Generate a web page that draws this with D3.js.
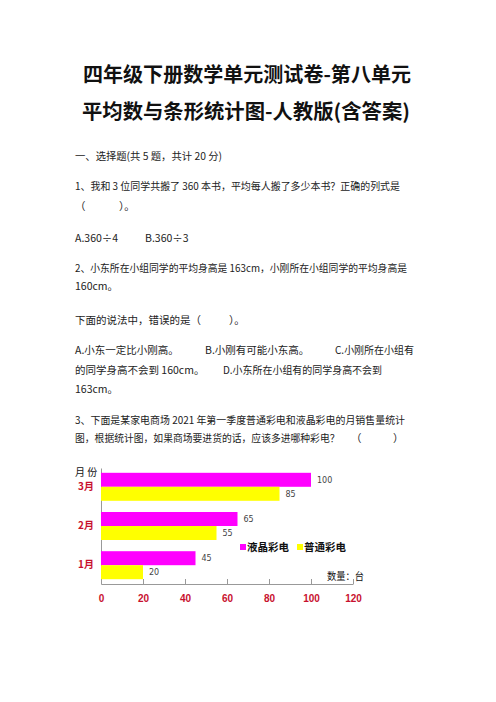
<!DOCTYPE html>
<html lang="zh">
<head>
  <meta charset="UTF-8">
  <title>四年级下册数学单元测试卷</title>
  <script src="https://d3js.org/d3.v7.min.js"></script>
  <style>
    body { margin: 0; background: #fff; }
    text { font-family: "Noto Sans CJK SC", sans-serif; }
  </style>
</head>
<body>
  <div class="canvas"></div>
  <script>
    // 月份（从上到下）
    const months = ['3月', '2月', '1月'];
    // 液晶彩电、普通彩电 销量（台）
    const lcdSales = [100, 65, 45];
    const normalSales = [85, 55, 20];
    const seriesNames = ['液晶彩电', '普通彩电'];
    const xTicks = [0, 20, 40, 60, 80, 100, 120];

    const svg = d3.select('.canvas')
      .append('svg')
      .attr('width', 496)
      .attr('height', 702)

    svg.append('rect').attr('width', 496).attr('height', 702).attr('fill', '#fff')

    // 标题
    const titles = [
      { t: '四年级下册数学单元测试卷-第八单元', x: 83, y: 82, w: 328 },
      { t: '平均数与条形统计图-人教版(含答案)', x: 82, y: 119, w: 328 }
    ]
    svg.selectAll('.title')
      .data(titles)
      .enter()
      .append('text')
      .attr('class', 'title')
      .attr('x', d => d.x)
      .attr('y', d => d.y)
      .attr('textLength', d => d.w)
      .attr('lengthAdjust', 'spacingAndGlyphs')
      .attr('font-size', 20)
      .attr('font-weight', 'bold')
      .attr('fill', '#111')
      .text(d => d.t)

    // 正文
    const lines = [
      { t: '一、选择题(共 5 题，共计 20 分)', x: 75, y: 160, w: 147 },
      { t: '1、我和 3 位同学共搬了 360 本书，平均每人搬了多少本书？正确的列式是', x: 75, y: 190, w: 325 },
      { t: '（', x: 75, y: 210 },
      { t: '）。', x: 119, y: 210 },
      { t: 'A.360÷4', x: 75, y: 242 },
      { t: 'B.360÷3', x: 145, y: 242 },
      { t: '2、小东所在小组同学的平均身高是 163cm，小刚所在小组同学的平均身高是', x: 75, y: 272, w: 332 },
      { t: '160cm。', x: 75, y: 290 },
      { t: '下面的说法中，错误的是（', x: 75, y: 324 },
      { t: '）。', x: 229, y: 324 },
      { t: 'A.小东一定比小刚高。', x: 75, y: 354 },
      { t: 'B.小刚有可能小东高。', x: 205, y: 354 },
      { t: 'C.小刚所在小组有', x: 335, y: 354, w: 79 },
      { t: '的同学身高不会到 160cm。', x: 75, y: 374 },
      { t: 'D.小东所在小组有的同学身高不会到', x: 223, y: 374, w: 159 },
      { t: '163cm。', x: 75, y: 393 },
      { t: '3、下面是某家电商场 2021 年第一季度普通彩电和液晶彩电的月销售量统计', x: 75, y: 424, w: 330 },
      { t: '图，根据统计图，如果商场要进货的话，应该多进哪种彩电？', x: 75, y: 442, fs: 9.8 },
      { t: '（', x: 351, y: 442 },
      { t: '）', x: 393, y: 442 }
    ]
    svg.selectAll('.line')
      .data(lines)
      .enter()
      .append('text')
      .attr('class', 'line')
      .attr('x', d => d.x)
      .attr('y', d => d.y)
      .attr('textLength', d => d.w ? d.w : null)
      .attr('lengthAdjust', 'spacingAndGlyphs')
      .attr('font-size', d => d.fs || 10.5)
      .attr('fill', '#222')
      .text(d => d.t)

    // 条形统计图
    const x = d3.scaleLinear().domain([0, 120]).range([101, 353])
    const y = d3.scaleBand().domain(months).range([468, 584])
      .paddingInner(0.286).paddingOuter(0.1225)
    const ySub = d3.scaleBand().domain(seriesNames).range([0, y.bandwidth()])
    const colors = { '液晶彩电': '#ff00ff', '普通彩电': '#ffff00' }

    const table = months.map((m, i) => ({
      month: m,
      values: [
        { name: seriesNames[0], value: lcdSales[i] },
        { name: seriesNames[1], value: normalSales[i] }
      ]
    }))

    const chart = svg.append('g')

    // x 轴
    const xAxis = chart.append('g')
      .attr('transform', `translate(0, 584)`)
      .call(d3.axisBottom(x).tickValues(xTicks).tickSizeInner(-5).tickSizeOuter(0).tickPadding(11))
    xAxis.select('.domain').attr('stroke', '#999')
    xAxis.selectAll('.tick line').attr('stroke', '#999')
    xAxis.selectAll('.tick text')
      .attr('fill', '#c8102e')
      .attr('font-size', 10)
      .attr('font-weight', 'bold')
      .style('font-family', 'Liberation Sans, Arial, sans-serif')

    // y 轴
    const yAxis = chart.append('g')
      .attr('transform', `translate(101, 0)`)
      .call(d3.axisLeft(y).tickSize(0).tickPadding(7))
    yAxis.select('.domain').attr('stroke', '#999')
    yAxis.selectAll('.tick text')
      .attr('fill', '#c8102e')
      .attr('font-size', 10)
      .attr('font-weight', 'bold')

    chart.append('text')
      .attr('x', 75).attr('y', 476)
      .attr('font-size', 10).attr('fill', '#111')
      .text('月  份')

    const groups = chart.selectAll('.group')
      .data(table)
      .enter()
      .append('g')
      .attr('class', 'group')
      .attr('transform', d => `translate(0, ${y(d.month)})`)

    groups.selectAll('rect')
      .data(d => d.values)
      .enter()
      .append('rect')
      .attr('x', x(0))
      .attr('y', d => ySub(d.name))
      .attr('width', d => x(d.value) - x(0))
      .attr('height', ySub.bandwidth())
      .attr('fill', d => colors[d.name])

    groups.selectAll('.val')
      .data(d => d.values)
      .enter()
      .append('text')
      .attr('class', 'val')
      .attr('x', d => x(d.value) + 6)
      .attr('y', d => ySub(d.name) + ySub.bandwidth() / 2)
      .attr('dy', '0.35em')
      .attr('font-size', 8)
      .attr('fill', '#444')
      .style('font-family', 'DejaVu Sans, sans-serif')
      .text(d => d.value)

    // 图例
    const legend = chart.selectAll('.legend')
      .data(seriesNames)
      .enter()
      .append('g')
      .attr('class', 'legend')
      .attr('transform', (d, i) => `translate(${240 + i * 57}, 547)`)
    legend.append('rect')
      .attr('x', 0).attr('y', -3)
      .attr('width', 6).attr('height', 6)
      .attr('fill', d => colors[d])
    legend.append('text')
      .attr('x', 7).attr('y', 0).attr('dy', '0.38em')
      .attr('font-size', 10.5).attr('font-weight', 'bold')
      .attr('textLength', 42).attr('lengthAdjust', 'spacingAndGlyphs')
      .attr('fill', '#111')
      .text(d => d)

    chart.append('text')
      .attr('x', 327).attr('y', 580)
      .attr('font-size', 10).attr('fill', '#111')
      .attr('textLength', 37).attr('lengthAdjust', 'spacingAndGlyphs')
      .text('数量：台')
  </script>
</body>
</html>
